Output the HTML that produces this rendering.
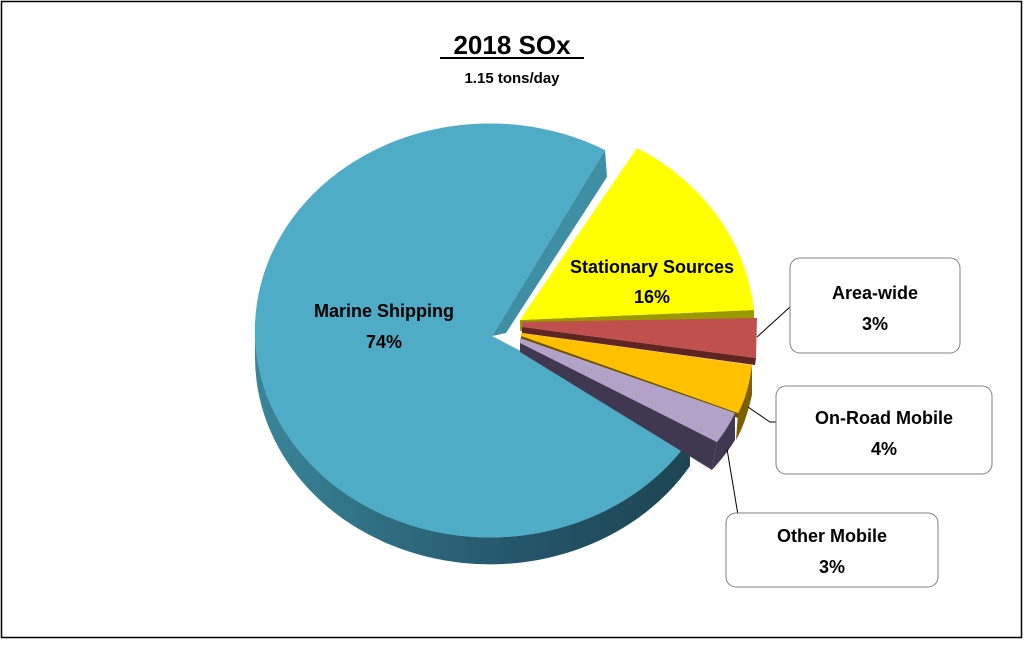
<!DOCTYPE html>
<html><head><style>
body{margin:0;background:#fff;}
svg text{font-family:"Liberation Sans",Arial,sans-serif;font-weight:bold;}
</style></head><body>
<svg width="1024" height="640" viewBox="0 0 1024 640">
<defs>
<linearGradient id="side" x1="0" x2="1" y1="0" y2="0">
<stop offset="0" stop-color="#3a8599"/><stop offset="0.6" stop-color="#24566a"/><stop offset="1" stop-color="#1d4552"/>
</linearGradient>
</defs>
<rect x="1.5" y="1.5" width="1020" height="636" fill="#fff" stroke="#000" stroke-width="1.5"/>
<text x="512" y="54" font-size="26" text-anchor="middle">2018 SOx</text>
<line x1="440" y1="58" x2="584" y2="58" stroke="#000" stroke-width="2"/>
<text x="512" y="83" font-size="15" text-anchor="middle">1.15 tons/day</text>
<!-- marine side -->
<path d="M255,330 A235,207 0 0 0 690,439 L690,466 A235,207 0 0 1 255,357 Z" fill="url(#side)"/>
<path d="M605,150 L607,177 L506,333 L492,336 Z" fill="#3f8fa4"/>
<!-- marine top -->
<path d="M492,336 L605,150 A235,207 0 1 0 690,439 Z" fill="#4facc6"/>
<!-- yellow -->
<path d="M520,320 L754,310 L754,321 L520,331 Z" fill="#999900"/>
<path d="M520,320 L637,148 A235,210 0 0 1 754,310 Z" fill="#ffff00"/>
<!-- red -->
<path d="M522,327 L756,358 L755,365 L522,333 Z" fill="#5e2523"/>
<path d="M522,322 L757,318 L756,358 L522,327 Z" fill="#c0504d"/>
<!-- orange -->
<path d="M738,413 L736,440 Q745,425 752,395 L752,365 Q748,395 738,413 Z" fill="#7f6000"/>
<path d="M521,335 L521,340 L738,418 L738,413 Z" fill="#6a5000"/>
<path d="M521,333 L752,365 Q748,395 738,413 L521,336 Z" fill="#ffc000"/>
<!-- purple -->
<path d="M520,342 L520,352 L712,470 L717,442 Z" fill="#403850"/>
<path d="M717,442 L712,470 Q728,452 735,440 L735,413 Z" fill="#403850"/>
<path d="M520,338 L735,413 Q728,428 717,442 L520,343 Z" fill="#b3a2c7"/>
<!-- leader lines -->
<path d="M757,337 L790,307" stroke="#000" fill="none"/>
<path d="M748,407 L770,422 L776,422" stroke="#000" fill="none"/>
<path d="M727,449 L738,515" stroke="#000" fill="none"/>
<!-- boxes -->
<rect x="790" y="258" width="170" height="95" rx="10" fill="#fff" stroke="#808080"/>
<rect x="776" y="386" width="216" height="88" rx="10" fill="#fff" stroke="#808080"/>
<rect x="726" y="513" width="212" height="74" rx="10" fill="#fff" stroke="#808080"/>
<text x="875" y="299" font-size="18" text-anchor="middle">Area-wide</text>
<text x="875" y="330" font-size="18" text-anchor="middle">3%</text>
<text x="884" y="424" font-size="18" text-anchor="middle">On-Road Mobile</text>
<text x="884" y="455" font-size="18" text-anchor="middle">4%</text>
<text x="832" y="542" font-size="18" text-anchor="middle">Other Mobile</text>
<text x="832" y="573" font-size="18" text-anchor="middle">3%</text>
<text x="652" y="273" font-size="18" text-anchor="middle">Stationary Sources</text>
<text x="652" y="303" font-size="18" text-anchor="middle">16%</text>
<text x="384" y="317" font-size="18" text-anchor="middle">Marine Shipping</text>
<text x="384" y="348" font-size="18" text-anchor="middle">74%</text>
</svg>
</body></html>
